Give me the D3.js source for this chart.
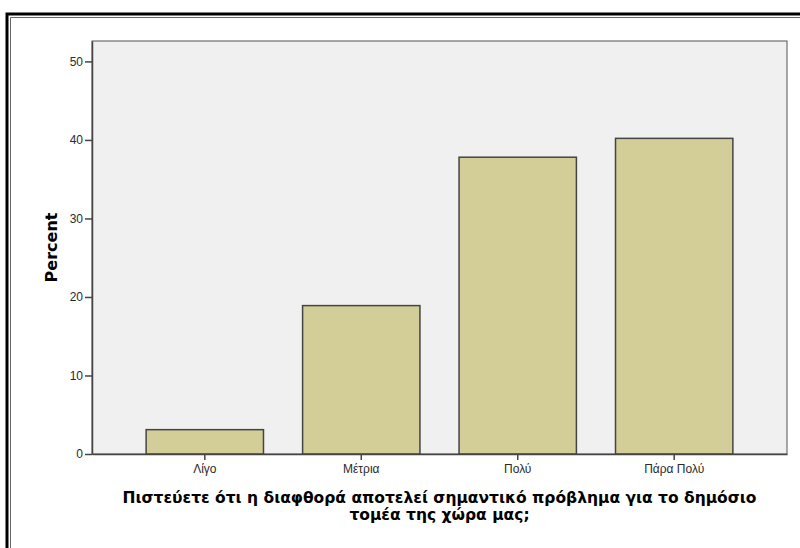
<!DOCTYPE html>
<html>
<head>
<meta charset="utf-8">
<script src="https://cdn.jsdelivr.net/npm/d3@7"></script>
<style>
  body { margin: 0; background: #fff; }
  svg { display: block; }
</style>
</head>
<body>
<script>
// data
const categories = ['Λίγο', 'Μέτρια', 'Πολύ', 'Πάρα Πολύ'];
const percents = [3.1, 18.9, 37.8, 40.2];
const yTicks = [0, 10, 20, 30, 40, 50];
const yLabel = 'Percent';
const xLabelLines = ['Πιστεύετε ότι η διαφθορά αποτελεί σημαντικό πρόβλημα για το δημόσιο', 'τομέα της χώρα μας;'];

const width = 800, height = 548;
const plot = { left: 92, top: 41, right: 787, bottom: 454 };

const svg = d3.select('body').append('svg')
  .attr('width', width)
  .attr('height', height);

// outer frame (double line, only left & top visible)
svg.append('path')
  .attr('d', `M7,${height} V14 H${width}`)
  .attr('fill', 'none').attr('stroke', '#000').attr('stroke-width', 3);
svg.append('path')
  .attr('d', `M10.5,${height} V17.5 H${width}`)
  .attr('fill', 'none').attr('stroke', '#666').attr('stroke-width', 1);

let x = d3.scaleBand()
  .domain(categories)
  .range([plot.left, plot.right])
  .paddingInner(0.25)
  .paddingOuter(0.346);

let y = d3.scaleLinear()
  .domain([0, 52.6])
  .range([plot.bottom, plot.top]);

// plot background
svg.append('rect')
  .attr('x', plot.left).attr('y', plot.top)
  .attr('width', plot.right - plot.left)
  .attr('height', plot.bottom - plot.top)
  .attr('fill', '#f0f0f0')
  .attr('stroke', '#555').attr('stroke-width', 1);

// bars
svg.selectAll('rect.bar')
  .data(percents)
  .enter()
  .append('rect')
  .attr('class', 'bar')
  .attr('x', (d, i) => x(categories[i]))
  .attr('y', d => y(d))
  .attr('width', x.bandwidth())
  .attr('height', d => y(0) - y(d))
  .attr('fill', '#d3ce97')
  .attr('stroke', '#444')
  .attr('stroke-width', 1.5);

// y axis
let yAxis = d3.axisLeft(y).tickValues(yTicks).tickSize(7).tickPadding(2).tickSizeOuter(0);
let gy = svg.append('g')
  .attr('transform', `translate(${plot.left},0)`)
  .call(yAxis);
gy.select('.domain').attr('stroke', '#444').attr('stroke-width', 1.5);
gy.selectAll('.tick line').attr('stroke', '#444').attr('stroke-width', 1.5);
gy.selectAll('.tick text')
  .attr('fill', '#2a2a2a')
  .style('font-family', 'Liberation Sans, Arial, sans-serif')
  .style('font-size', '12px');

// x axis
let xAxis = d3.axisBottom(x).tickSize(6).tickPadding(4).tickSizeOuter(0);
let gx = svg.append('g')
  .attr('transform', `translate(0,${plot.bottom})`)
  .call(xAxis);
gx.select('.domain').attr('stroke', '#444').attr('stroke-width', 1.5);
gx.selectAll('.tick line').attr('stroke', '#444').attr('stroke-width', 1.5);
gx.selectAll('.tick text')
  .attr('fill', '#2a2a2a')
  .style('font-family', 'Liberation Sans, Arial, sans-serif')
  .style('font-size', '12px');

// axis titles
svg.append('text')
  .attr('transform', `translate(57,${(plot.top + plot.bottom) / 2}) rotate(-90)`)
  .attr('text-anchor', 'middle')
  .style('font-family', 'DejaVu Sans, sans-serif')
  .style('font-weight', 'bold')
  .style('font-size', '16px')
  .text(yLabel);

let cx = (plot.left + plot.right) / 2;
svg.selectAll('text.xtitle')
  .data(xLabelLines)
  .enter()
  .append('text')
  .attr('class', 'xtitle')
  .attr('x', cx)
  .attr('y', (d, i) => 503 + i * 17)
  .attr('text-anchor', 'middle')
  .style('font-family', 'DejaVu Sans, sans-serif')
  .style('font-weight', 'bold')
  .style('font-size', '15.5px')
  .text(d => d);
</script>
</body>
</html>
